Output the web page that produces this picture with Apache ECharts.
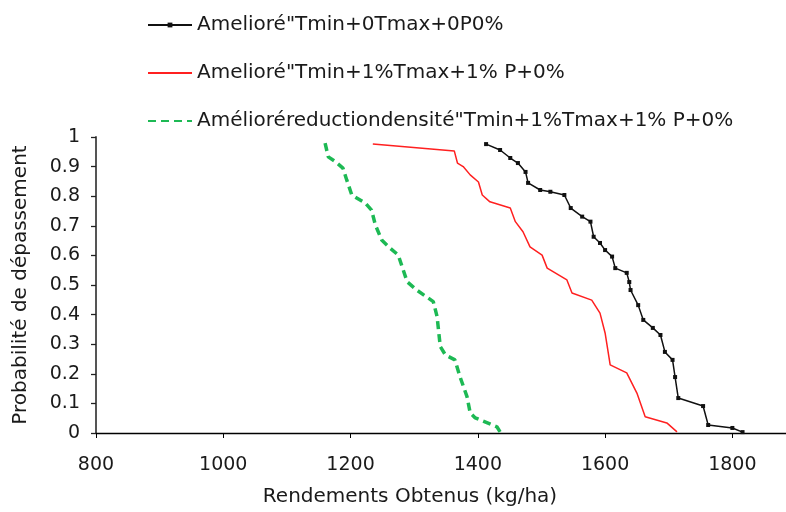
<!DOCTYPE html>
<html>
<head>
<meta charset="utf-8">
<script src="https://cdn.jsdelivr.net/npm/echarts@6/dist/echarts.min.js"></script>
<style>html,body{margin:0;padding:0;background:#fff}#c{width:786px;height:512px}</style>
</head>
<body>
<div id="c"></div>
<script>
const seriesNames = [
  'Amelioré"Tmin+0Tmax+0P0%',
  'Amelioré"Tmin+1%Tmax+1% P+0%',
  'Amélioréreductiondensité"Tmin+1%Tmax+1% P+0%'
];
const xTicks = [800, 1000, 1200, 1400, 1600, 1800];
const yTicks = [0, 0.1, 0.2, 0.3, 0.4, 0.5, 0.6, 0.7, 0.8, 0.9, 1];

const blackYield = [1413,1435,1451,1463,1475,1479,1498,1514,1536,1546,1564,1577,1582,1592,1600,1611,1616,1634,1638,1640,1652,1660,1675,1687,1694,1706,1710,1715,1754,1762,1800,1816];
const blackProb  = [0.976,0.956,0.929,0.912,0.882,0.845,0.821,0.815,0.804,0.760,0.731,0.714,0.663,0.642,0.618,0.596,0.557,0.541,0.510,0.483,0.432,0.382,0.355,0.331,0.274,0.247,0.189,0.118,0.091,0.027,0.017,0.003];

const redYield = [1235,1363,1368,1377,1388,1401,1407,1419,1451,1459,1471,1482,1501,1509,1540,1548,1579,1592,1600,1608,1634,1650,1663,1697,1713];
const redProb  = [0.976,0.953,0.912,0.900,0.872,0.848,0.804,0.781,0.760,0.714,0.680,0.629,0.601,0.557,0.517,0.473,0.449,0.405,0.338,0.230,0.203,0.135,0.055,0.034,0.004];

const greenYield = [1160,1165,1176,1188,1194,1202,1223,1233,1239,1249,1262,1275,1281,1289,1304,1330,1336,1341,1349,1364,1372,1383,1388,1396,1430,1435];
const greenProb  = [0.979,0.933,0.917,0.895,0.855,0.804,0.777,0.753,0.703,0.652,0.625,0.601,0.562,0.511,0.483,0.444,0.393,0.292,0.264,0.247,0.190,0.123,0.068,0.051,0.021,0.004];

const pairs = (xs, ys) => xs.map((x, i) => [x, ys[i]]);
const font = 'DejaVu Sans, Liberation Sans, sans-serif';
const fs = 19;
const fsBig = 20;
const txt = '#1a1a1a';

const chart = echarts.init(document.getElementById('c'));
chart.setOption({
  animation: false,
  backgroundColor: '#fff',
  textStyle: { fontFamily: font },
  legend: {
    orient: 'vertical',
    left: 142,
    top: 10,
    itemWidth: 44,
    itemHeight: 6,
    itemGap: 28,
    textStyle: { fontFamily: font, fontSize: fsBig, color: txt },
    data: [
      { name: seriesNames[0] },
      { name: seriesNames[1], itemStyle: { opacity: 0 } },
      { name: seriesNames[2], itemStyle: { opacity: 0 } }
    ]
  },
  grid: { left: 96, right: -10, top: 137, bottom: 79, containLabel: false, outerBoundsMode: 'none' },
  xAxis: {
    type: 'value',
    min: 800, max: 1900, interval: 200,
    name: 'Rendements Obtenus (kg/ha)',
    nameLocation: 'middle',
    nameGap: 54,
    nameTextStyle: { fontFamily: font, fontSize: fsBig, color: txt, padding: [0, 72, 0, 0] },
    axisLine: { show: true, lineStyle: { color: '#000', width: 1.3 } },
    axisTick: { show: true, inside: false, length: 5, lineStyle: { color: '#000' } },
    axisLabel: {
      fontFamily: font, fontSize: fs, color: txt, margin: 23, showMaxLabel: false,
      formatter: v => xTicks.includes(v) ? String(v) : ''
    },
    splitLine: { show: false }
  },
  yAxis: {
    type: 'value',
    min: 0, max: 1, interval: 0.1,
    name: 'Probabilité de dépassement',
    nameLocation: 'middle',
    nameGap: 65,
    nameTextStyle: { fontFamily: font, fontSize: fsBig, color: txt },
    axisLine: { show: true, lineStyle: { color: '#555', width: 2 } },
    axisTick: { show: true, inside: false, length: 5, lineStyle: { color: '#222', width: 1.3 } },
    axisLabel: {
      fontFamily: font, fontSize: fs, color: txt, margin: 16,
      formatter: v => { const t = yTicks.find(k => Math.abs(k - v) < 1e-6); return t === undefined ? '' : String(t); }
    },
    splitLine: { show: false }
  },
  series: [
    {
      name: seriesNames[0], type: 'line',
      data: pairs(blackYield, blackProb),
      symbol: 'rect', symbolSize: 4, showSymbol: true,
      itemStyle: { color: '#111' },
      lineStyle: { color: '#111', width: 1.5 }
    },
    {
      name: seriesNames[1], type: 'line',
      data: pairs(redYield, redProb),
      symbol: 'none', showSymbol: false,
      itemStyle: { color: '#ff2020' },
      lineStyle: { color: '#ff2020', width: 1.5 }
    },
    {
      name: seriesNames[2], type: 'line',
      data: pairs(greenYield, greenProb),
      symbol: 'none', showSymbol: false,
      itemStyle: { color: '#1db954' },
      lineStyle: { color: '#1db954', width: 3.5, type: [8, 5] }
    }
  ]
});
</script>
</body>
</html>
